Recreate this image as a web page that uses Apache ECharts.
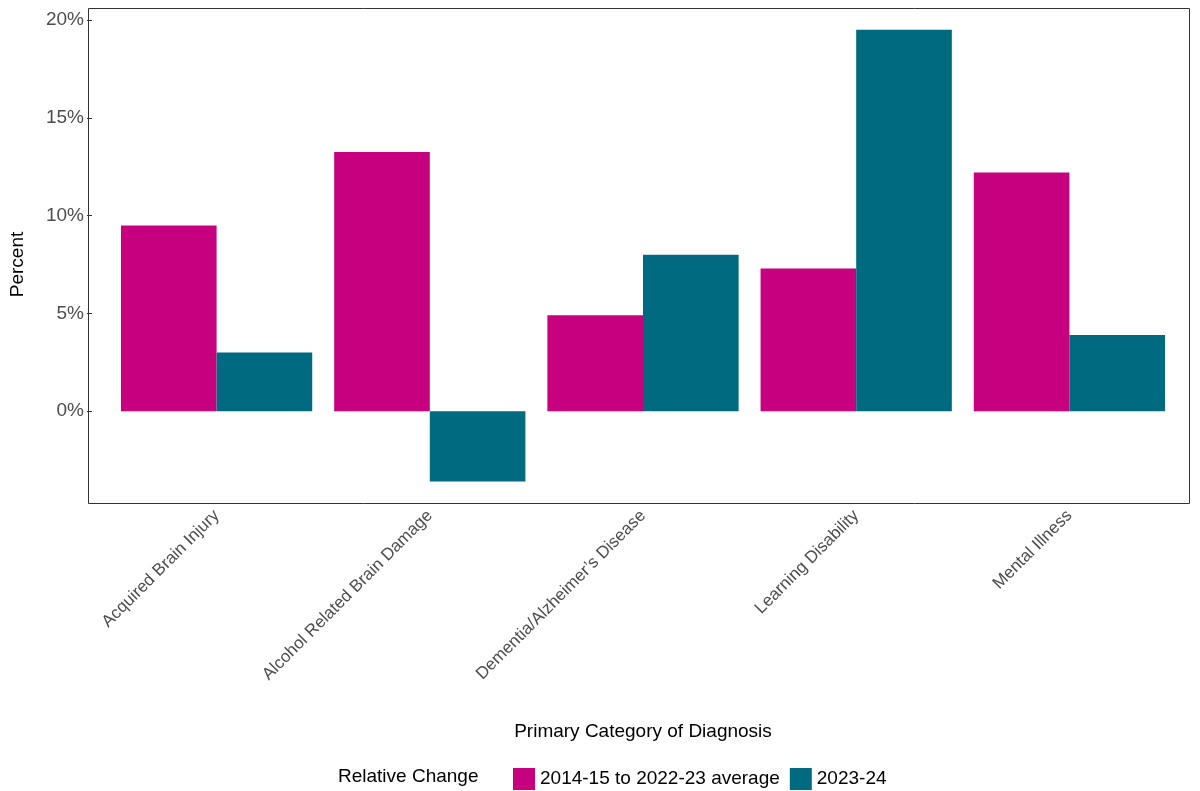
<!DOCTYPE html>
<html>
<head>
<meta charset="utf-8">
<script src="https://cdn.jsdelivr.net/npm/echarts@6/dist/echarts.min.js"></script>
<style>html,body{margin:0;padding:0;background:#fff}#main{width:1200px;height:791px}</style>
</head>
<body>
<div id="main"></div>
<script>
var categories = ['Acquired Brain Injury', 'Alcohol Related Brain Damage', 'Dementia/Alzheimer\u2019s Disease', 'Learning Disability', 'Mental Illness'];
var avgChange = [9.5, 13.25, 4.9, 7.3, 12.2];
var latestChange = [3.0, -3.6, 8.0, 19.5, 3.9];
var seriesNames = ['2014-15 to 2022-23 average', '2023-24'];
var yTicks = [0, 5, 10, 15, 20];

var myChart = echarts.init(document.getElementById('main'));
var font = 'Liberation Sans, Arial, sans-serif';
option = {
    animation: false,
    color: ['#C6007E', '#006A80'],
    grid: { left: 106, right: 24, top: 20, bottom: 282 },
    legend: {
        data: seriesNames,
        left: 508, top: 763,
        itemWidth: 22, itemHeight: 22, itemGap: 10,
        icon: 'rect',
        textStyle: { fontSize: 19, color: '#000', fontFamily: font }
    },
    graphic: [{
        type: 'rect', silent: true,
        shape: { x: 88.5, y: 8.5, width: 1101, height: 495 },
        style: { fill: 'none', stroke: '#333', lineWidth: 1 }
    }, {
        type: 'text', left: 338, top: 767,
        style: { text: 'Relative Change', fontSize: 19, fill: '#000', fontFamily: font }
    }],
    xAxis: {
        type: 'category',
        data: categories,
        offset: -6,
        name: 'Primary Category of Diagnosis',
        nameLocation: 'middle', nameGap: 219,
        nameTextStyle: { fontSize: 19, color: '#000', fontFamily: font },
        axisLine: { show: false },
        axisTick: { alignWithLabel: true, length: 5, lineStyle: { color: '#333' } },
        axisLabel: { rotate: 45, fontSize: 17, color: '#4d4d4d', fontFamily: font, margin: 10 }
    },
    yAxis: {
        type: 'value', min: -5, max: 20, interval: 5,
        offset: 18,
        name: 'Percent', nameLocation: 'middle', nameGap: 65,
        nameTextStyle: { fontSize: 19, color: '#000', fontFamily: font },
        axisLine: { show: false },
        axisTick: { show: true, length: 5, customValues: yTicks, lineStyle: { color: '#333' } },
        splitLine: { show: false },
        axisLabel: {
            fontSize: 19, color: '#4d4d4d', fontFamily: font, margin: 8,
            customValues: yTicks,
            formatter: function (v) { return v + '%'; }
        }
    },
    series: [{
        name: seriesNames[0], type: 'bar', data: avgChange,
        barGap: '0%', barCategoryGap: '10.3%'
    }, {
        name: seriesNames[1], type: 'bar', data: latestChange
    }]
};
myChart.setOption(option);
</script>
</body>
</html>
